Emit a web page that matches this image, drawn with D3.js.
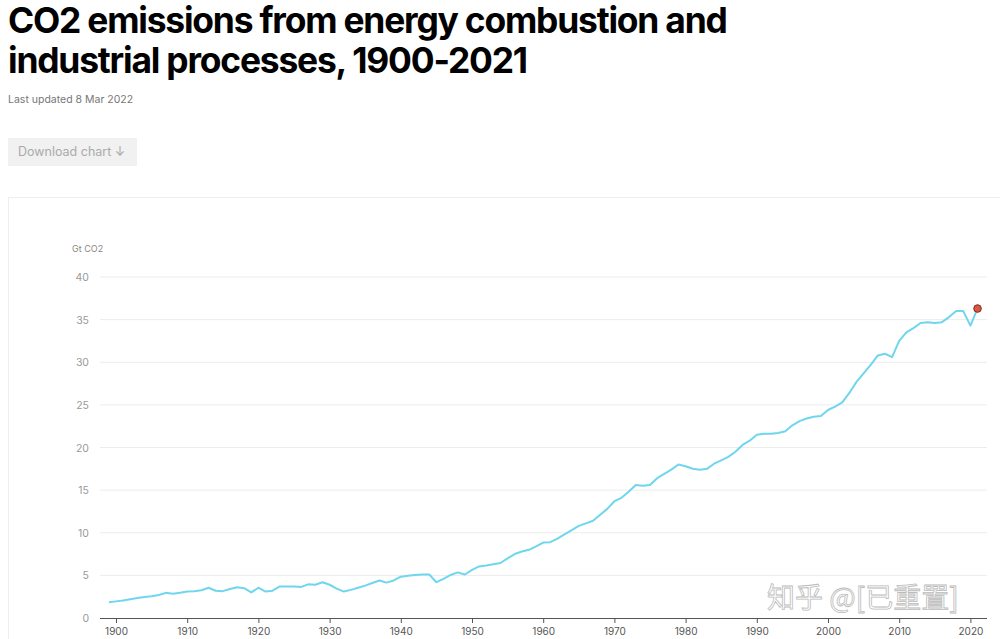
<!DOCTYPE html>
<html>
<head>
<meta charset="utf-8">
<script src="https://cdn.jsdelivr.net/npm/d3@7"></script>
<style>
  body { margin: 0; background: #fff; }
  svg text { font-family: Inter, "Noto Sans", sans-serif; }
  .axis path, .axis line { stroke: #555; }
  .axis text { fill: #555; font-size: 10px; }
</style>
</head>
<body>
<div id="chart"></div>
<script>
// years and emissions (Gt CO2)
const years = d3.range(1899, 2022);
const emissions = [
  1.85, 1.95, 2.05, 2.2, 2.35, 2.45, 2.55, 2.7, 2.95, 2.85,   // 1899-1908
  2.95, 3.1, 3.15, 3.25, 3.55, 3.2, 3.15, 3.4, 3.6, 3.5,      // 1909-1918
  3.0, 3.55, 3.1, 3.2, 3.7, 3.7, 3.7, 3.65, 3.95, 3.9,        // 1919-1928
  4.2, 3.9, 3.45, 3.1, 3.3, 3.55, 3.8, 4.1, 4.4, 4.15,        // 1929-1938
  4.4, 4.85, 4.95, 5.05, 5.1, 5.1, 4.2, 4.6, 5.05, 5.35,      // 1939-1948
  5.1, 5.65, 6.05, 6.15, 6.3, 6.45, 7.0, 7.5, 7.8, 8.0,       // 1949-1958
  8.4, 8.85, 8.9, 9.3, 9.8, 10.3, 10.8, 11.1, 11.4, 12.1,     // 1959-1968
  12.8, 13.7, 14.1, 14.8, 15.6, 15.5, 15.6, 16.4, 16.9, 17.4, // 1969-1978
  18.0, 17.8, 17.5, 17.4, 17.5, 18.1, 18.5, 18.9, 19.5, 20.3, // 1979-1988
  20.8, 21.5, 21.6, 21.6, 21.7, 21.9, 22.6, 23.1, 23.4, 23.6, // 1989-1998
  23.7, 24.4, 24.8, 25.3, 26.4, 27.7, 28.7, 29.7, 30.8, 31.0, // 1999-2008
  30.6, 32.5, 33.5, 34.0, 34.6, 34.7, 34.6, 34.7, 35.3, 36.0, // 2009-2018
  36.0, 34.3, 36.3                                            // 2019-2021
];
const yTicks = [0, 5, 10, 15, 20, 25, 30, 35, 40];
const xTicks = d3.range(1900, 2021, 10);

const data = years.map((y, i) => ({year: y, value: emissions[i]}));

const width = 1000, height = 639;
const svg = d3.select("#chart").append("svg")
    .attr("width", width)
    .attr("height", height);

// header
svg.append("text").attr("x", 8).attr("y", 33)
    .attr("font-size", 35.4).attr("font-weight", 700).attr("letter-spacing", -1.2)
    .attr("fill", "#000")
    .text("CO2 emissions from energy combustion and");
svg.append("text").attr("x", 8).attr("y", 73)
    .attr("font-size", 35.4).attr("font-weight", 700).attr("letter-spacing", -1.2)
    .attr("fill", "#000")
    .text("industrial processes, 1900-2021");
svg.append("text").attr("x", 8).attr("y", 103)
    .attr("font-size", 10.5).attr("fill", "#777")
    .text("Last updated 8 Mar 2022");

// download button
svg.append("rect").attr("x", 8).attr("y", 138).attr("width", 129).attr("height", 28)
    .attr("fill", "#f1f1f1");
svg.append("text").attr("x", 18).attr("y", 156)
    .attr("font-size", 12.5).attr("fill", "#aaa")
    .text("Download chart \u2193");

// chart panel
svg.append("rect").attr("x", 8.5).attr("y", 197.5).attr("width", 1000).attr("height", 500)
    .attr("fill", "none").attr("stroke", "#eee");

const margin = {left: 100, right: 13, top: 277, bottom: 618};

const xScale = d3.scaleLinear()
    .domain([1900, 2020])
    .range([116, 970.4]);

const yScale = d3.scaleLinear()
    .domain([0, 40])
    .range([margin.bottom, margin.top]);

// gridlines
svg.append("g").selectAll("line")
    .data(yTicks.filter(d => d > 0))
    .join("line")
    .attr("x1", margin.left).attr("x2", width - margin.right)
    .attr("y1", d => yScale(d)).attr("y2", d => yScale(d))
    .attr("stroke", "#ececec");

// y labels
svg.append("g").selectAll("text")
    .data(yTicks)
    .join("text")
    .attr("x", 89).attr("y", d => yScale(d) + 4)
    .attr("text-anchor", "end")
    .attr("font-size", 10.5).attr("fill", "#999")
    .text(d => d);

svg.append("text").attr("x", 72).attr("y", 252)
    .attr("font-size", 9).attr("fill", "#888")
    .text("Gt CO2");

// x axis
const xAxis = svg.append("g")
    .attr("class", "axis")
    .attr("transform", `translate(0,${margin.bottom})`)
    .call(d3.axisBottom(xScale).tickValues(xTicks).tickFormat(d3.format("d")).tickSize(5).tickSizeOuter(0));
xAxis.select(".domain").attr("d", `M${margin.left},0.5H${width - margin.right}`);
xAxis.selectAll(".tick text").attr("dy", "0.9em");

// line
const line = d3.line()
    .x(d => xScale(d.year))
    .y(d => yScale(d.value));

svg.append("path")
    .datum(data)
    .attr("fill", "none")
    .attr("stroke", "#6fd6ee")
    .attr("stroke-width", 2)
    .attr("stroke-linejoin", "round")
    .attr("d", line);

const last = data[data.length - 1];
svg.append("circle")
    .attr("cx", xScale(last.year)).attr("cy", yScale(last.value))
    .attr("r", 3.8)
    .attr("fill", "#d9583f").attr("stroke", "#7a2a1c").attr("stroke-width", 1);

// watermark
svg.append("text").attr("x", 767).attr("y", 608)
    .attr("font-size", 28)
    .style("font-family", "'Noto Sans CJK SC', sans-serif")
    .attr("fill", "#fff").attr("stroke", "#bbb").attr("stroke-width", 0.8)
    .text("知乎 @[已重置]");
</script>
</body>
</html>
